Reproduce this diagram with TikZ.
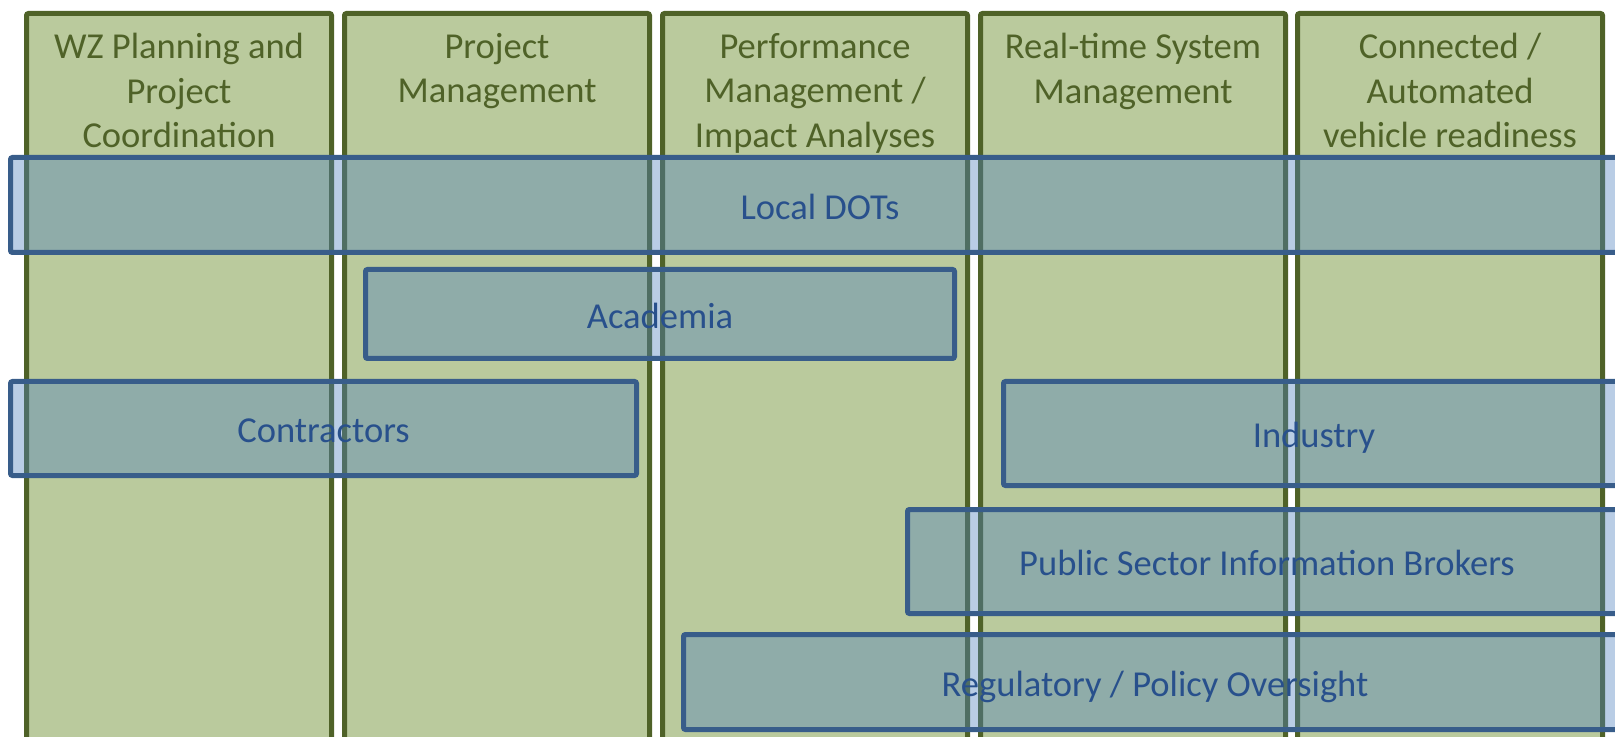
\documentclass[tikz,border=0pt]{standalone}
\usepackage{fontspec}
\setmainfont{Carlito}
\definecolor{colfill}{RGB}{186,202,157}
\definecolor{coldraw}{RGB}{79,98,40}
\definecolor{boxfill}{RGB}{79,129,189}
\definecolor{boxdraw}{RGB}{56,93,138}
\definecolor{boxtext}{RGB}{40,80,140}
\tikzset{
  colbox/.style={draw=coldraw, fill=colfill, line width=3.75pt, rounded corners=1.5pt,
    minimum width=228.75pt, minimum height=588pt, inner sep=0pt},
  colhead/.style={anchor=north, inner sep=0pt, align=center, text=coldraw,
    font=\fontsize{27.4pt}{33.4pt}\selectfont},
  bluebox/.style={draw=boxdraw, fill=boxfill, fill opacity=0.4, text opacity=1,
    line width=3.75pt, rounded corners=1.5pt, inner sep=0pt, text=boxtext,
    text height=21.4pt, text depth=0pt,
    font=\fontsize{27.4pt}{33.4pt}\selectfont}
}
\begin{document}
\begin{tikzpicture}[x=0.75pt,y=-0.75pt]
\useasboundingbox (0,0) rectangle (1615,737);
\clip (0,0) rectangle (1615,737);
% columns
\node[colbox] (c1) at (179,405.5) {};
\node[colbox] (c2) at (497,405.5) {};
\node[colbox] (c3) at (815,405.5) {};
\node[colbox] (c4) at (1133,405.5) {};
\node[colbox] (c5) at (1450,405.5) {};
\node[colhead] (h1) at (179,33) {WZ Planning and\\Project\\Coordination};
\node[colhead] (h2) at (497,33) {Project\\Management};
\node[colhead] (h3) at (815,33) {Performance\\Management /\\Impact Analyses};
\node[colhead] (h4) at (1133,33) {Real-time System\\Management};
\node[colhead] (h5) at (1450,33) {Connected /\\Automated\\vehicle readiness};
% stakeholder bands
\node[bluebox, minimum width=1214.25pt, minimum height=71.25pt] (dots) at (820,205) {Local DOTs};
\node[bluebox, minimum width=441.75pt, minimum height=66.75pt] (acad) at (660,314) {Academia};
\node[bluebox, minimum width=469.5pt, minimum height=70.5pt] (contr) at (323.5,428.5) {Contractors};
\node[bluebox, minimum width=465.75pt, minimum height=78pt] (ind) at (1314,433.5) {Industry};
\node[bluebox, minimum width=539.25pt, minimum height=78pt] (psib) at (1267,561.5) {Public Sector Information Brokers};
\node[bluebox, minimum width=707.25pt, minimum height=71.25pt] (reg) at (1155,682) {Regulatory / Policy Oversight};
\end{tikzpicture}
\end{document}
